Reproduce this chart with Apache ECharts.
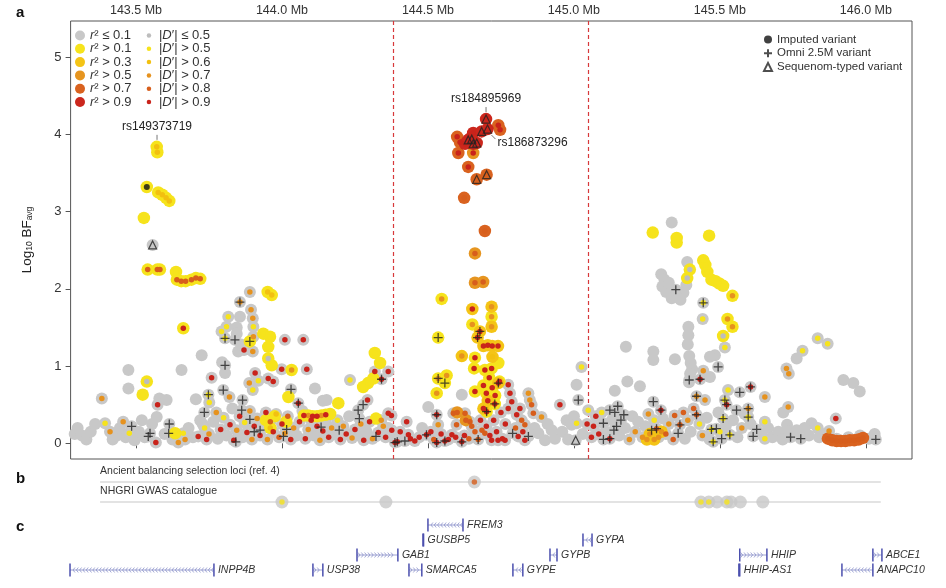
<!DOCTYPE html>
<html><head><meta charset="utf-8">
<script src="https://cdn.jsdelivr.net/npm/echarts@6/dist/echarts.min.js"></script>
<style>html,body{margin:0;padding:0;background:#fff}#c{width:946px;height:588px}</style>
</head><body><div id="c"></div>
<script>
// ---------- DATA ----------
const xTicks = [143.5, 144.0, 144.5, 145.0, 145.5, 146.0];
const yTicks = [0, 1, 2, 3, 4, 5];
const selectionBounds = [144.380, 145.051];
const r2Labels = ['≤ 0.1', '> 0.1', '> 0.3', '> 0.5', '> 0.7', '> 0.9'];
const dLabels = ['≤ 0.5', '> 0.5', '> 0.6', '> 0.7', '> 0.8', '> 0.9'];
const markerNames = ['Imputed variant', 'Omni 2.5M variant', 'Sequenom-typed variant'];

// each point: [position Mb, log10 BFavg, |D'| class index]
const r2Gray = [
[143.290,0.12,0],[143.300,0.20,0],[143.315,0.10,0],[143.330,0.05,0],[143.345,0.15,0],[143.360,0.25,0],[143.383,0.58,3],[143.394,0.26,1],[143.411,0.15,3],[143.420,0.05,0],[143.435,0.10,0],[143.445,0.20,0],[143.456,0.28,3],[143.465,0.08,0],[143.474,0.95,0],[143.474,0.71,0],[143.477,0.13,1],[143.485,0.22,0],[143.495,0.04,0],[143.510,0.15,0],[143.520,0.30,0],[143.530,0.08,0],[143.542,0.09,0],[143.548,0.13,0],[143.555,0.25,0],[143.557,2.57,0],[143.568,0.01,5],[143.571,0.34,0],[143.574,0.50,5],[143.580,0.58,0],[143.605,0.56,0],[143.598,0.12,0],[143.612,0.13,0],[143.614,0.25,0],[143.625,0.05,0],[143.645,0.01,3],[143.656,0.95,0],[143.662,0.13,1],[143.668,0.05,3],[143.680,0.20,0],[143.695,0.08,0],[143.705,0.57,0],[143.713,0.09,5],[143.725,1.14,0],[143.728,0.25,0],[143.742,0.05,5],
[143.890,1.96,3],[143.856,1.83,3],[143.894,1.73,3],[143.816,1.64,1],[143.856,1.64,0],[143.900,1.62,3],[143.810,1.51,1],[143.793,1.45,1],[143.902,1.51,1],[143.845,1.50,0],[143.845,1.42,0],[143.805,1.36,1],[143.839,1.34,0],[143.870,1.21,5],[143.902,1.38,3],[143.900,1.19,3],[143.850,1.19,0],[143.860,1.28,0],[144.010,1.34,5],[144.073,1.34,5],[143.999,0.96,5],[144.085,0.96,5],[143.953,0.84,5],[143.970,0.80,5],[143.908,0.91,5],[143.919,0.81,1],[143.888,0.78,3],[143.805,1.01,0],[143.795,1.05,0],[143.805,0.91,0],[143.759,0.85,5],[143.799,0.69,0],[143.748,0.63,1],[143.751,0.53,1],[143.820,0.60,3],[143.865,0.56,0],[143.900,0.69,1],[144.031,0.70,0],[144.056,0.52,5],[144.113,0.71,0],[144.153,0.56,0],[144.140,0.55,0],[144.233,0.82,1],[144.318,0.93,5],[144.341,0.83,5],[144.364,0.93,5],[144.261,0.43,0],[144.278,0.50,0],[144.265,0.32,0],[144.293,0.56,5],[144.347,0.22,3],[144.322,0.09,0],[144.387,0.01,5],[143.734,0.40,0],[143.890,0.31,0],[143.905,0.15,0],[143.925,0.17,0],[144.016,0.18,0],[144.005,0.09,0],[144.134,0.21,0],[144.196,0.17,0],[143.842,0.02,0],[143.862,0.43,0],[144.364,0.39,5],[144.376,0.17,5],
[143.720,0.30,0],[143.735,0.20,1],[143.750,0.12,3],[143.765,0.28,0],[143.775,0.40,3],[143.780,0.06,0],[143.790,0.18,5],[143.800,0.33,1],[143.810,0.10,0],[143.822,0.24,5],[143.830,0.45,0],[143.835,0.04,5],[143.845,0.17,3],[143.855,0.35,5],[143.865,0.08,0],[143.872,0.27,1],[143.880,0.14,5],[143.890,0.42,3],[143.897,0.05,3],[143.905,0.22,5],[143.915,0.32,3],[143.925,0.10,5],[143.935,0.20,0],[143.945,0.40,5],[143.950,0.05,3],[143.960,0.28,4],[143.970,0.15,5],[143.980,0.38,2],[143.990,0.08,4],[144.000,0.25,5],[144.010,0.13,3],[144.020,0.35,4],[144.030,0.05,5],[144.040,0.20,3],[144.050,0.10,0],[144.060,0.28,5],[144.070,0.42,0],[144.080,0.06,5],[144.090,0.18,3],[144.100,0.30,5],[144.110,0.10,0],[144.120,0.22,5],[144.130,0.04,3],[144.140,0.16,5],[144.150,0.28,0],[144.160,0.08,5],[144.170,0.20,3],[144.180,0.12,0],[144.190,0.30,1],[144.200,0.05,5],[144.210,0.22,3],[144.220,0.12,5],[144.230,0.35,0],[144.240,0.07,3],[144.250,0.18,5],[144.260,0.10,0],[144.270,0.25,3],[144.280,0.04,5],[144.290,0.15,0],[144.300,0.28,5],[144.310,0.06,3],[144.330,0.14,5],[144.340,0.30,3],[144.355,0.08,5],[144.365,0.20,0],[144.375,0.36,5],[144.385,0.12,0],
[144.395,0.02,5],[144.405,0.15,5],[144.421,0.03,0],[144.427,0.28,5],[144.433,0.11,5],[144.440,0.06,5],[144.455,0.03,5],[144.470,0.08,5],[144.480,0.20,0],[144.495,0.11,5],[144.501,0.47,0],[144.510,0.15,5],[144.520,0.05,4],[144.530,0.01,5],[144.530,0.37,5],[144.535,0.24,3],[144.545,0.12,5],[144.558,0.03,5],[144.570,0.05,5],[144.582,0.11,5],[144.587,0.39,4],[144.595,0.08,5],[144.598,0.24,4],[144.616,0.02,5],[144.616,0.63,0],[144.625,0.10,5],[144.627,0.39,4],[144.640,0.06,4],[144.644,0.28,4],[144.650,0.22,4],[144.661,0.15,4],[144.672,0.05,4],[144.680,0.30,5],[144.685,0.17,4],[144.695,0.13,4],[144.700,0.22,5],[144.712,0.10,5],[144.718,0.04,5],[144.725,0.30,5],[144.735,0.15,5],[144.740,0.04,5],[144.750,0.40,5],[144.755,0.06,5],[144.764,0.04,5],[144.765,0.25,5],[144.775,0.45,5],[144.775,0.76,5],[144.781,0.65,5],[144.787,0.54,5],[144.790,0.13,0],[144.800,0.20,4],[144.804,0.37,5],[144.809,0.09,5],[144.815,0.45,5],[144.821,0.30,4],[144.825,0.15,5],[144.832,0.04,5],[144.832,0.24,4],[144.844,0.09,0],[144.844,0.65,3],[144.849,0.56,3],[144.855,0.50,4],[144.861,0.39,4],[144.865,0.20,0],[144.878,0.13,0],[144.889,0.34,3],[144.901,0.04,0],[144.910,0.25,0],[144.924,0.17,0],[144.935,0.06,0],[144.952,0.50,5],[144.960,0.15,0],[144.975,0.30,0],[144.980,0.05,0],[144.992,0.24,0],[145.000,0.35,0],[145.006,0.04,0],[145.009,0.76,0],[145.009,0.26,1],[145.015,0.56,0],[145.026,0.99,1],[145.030,0.12,0],[145.045,0.25,5],[145.049,0.43,1],[145.060,0.08,5],
[145.335,2.86,0],[145.388,2.35,0],[145.299,2.19,0],[145.310,2.12,0],[145.303,2.03,0],[145.316,1.96,0],[145.335,1.88,0],[145.355,1.90,0],[145.375,1.95,0],[145.385,2.05,0],[145.349,1.99,0],[145.325,2.08,0],[145.365,1.86,0],[145.443,1.82,1],[145.441,1.61,1],[145.517,1.24,1],[145.392,1.51,0],[145.392,1.40,0],[145.390,1.28,0],[145.395,1.13,0],[145.400,1.04,0],[145.405,0.96,0],[145.398,0.90,0],[145.394,0.79,0],[145.178,1.25,0],[145.272,1.19,0],[145.272,1.08,0],[145.346,1.09,0],[145.483,1.14,0],[145.466,1.12,0],[145.494,0.99,0],[145.443,0.94,3],[145.395,0.82,0],[145.432,0.83,5],[145.466,0.86,0],[145.183,0.80,0],[145.226,0.74,0],[145.140,0.68,0],[145.272,0.54,0],[145.298,0.43,5],[145.420,0.61,3],[145.449,0.56,3],[145.517,0.56,1],[145.523,0.50,5],[145.528,0.69,1],[145.568,0.66,0],[145.605,0.73,5],[145.654,0.60,3],[145.557,0.43,0],[145.597,0.45,3],[145.597,0.34,1],[145.420,0.37,4],[145.150,0.48,0],[145.123,0.43,0],[145.140,0.40,0],[145.171,0.37,0],[145.161,0.30,0],[145.101,0.26,0],[145.146,0.22,0],[145.137,0.17,0],[145.101,0.05,0],[145.123,0.06,5],[145.067,0.22,5],[145.266,0.17,0],[145.283,0.19,4],[145.363,0.24,4],[145.357,0.13,0],[145.471,0.18,1],[145.488,0.19,0],[145.511,0.32,1],[145.534,0.11,1],[145.506,0.06,0],[145.477,0.02,1],[145.626,0.18,0],[145.614,0.09,0],[145.742,0.08,0],[145.777,0.06,0],[146.034,0.05,0],[145.897,0.32,5],[145.835,0.20,1],[145.874,0.16,3],[145.814,0.26,0],[145.923,0.82,0],[145.957,0.78,0],[145.979,0.67,0],[145.835,1.36,1],[145.869,1.29,1],[145.783,1.20,1],[145.763,1.10,0],[145.728,0.97,3],[145.736,0.90,3],[145.734,0.47,3],[145.717,0.40,0],[145.730,0.24,0],[145.735,0.15,0],[145.722,0.12,0],[145.763,0.17,0],[145.654,0.28,1],[145.654,0.06,1],
[145.075,0.35,5],[145.085,0.12,5],[145.095,0.40,1],[145.110,0.15,0],[145.130,0.30,0],[145.155,0.10,0],[145.175,0.20,0],[145.190,0.05,3],[145.200,0.35,0],[145.210,0.15,3],[145.220,0.28,0],[145.235,0.08,3],[145.245,0.22,0],[145.255,0.38,3],[145.275,0.30,1],[145.290,0.08,3],[145.305,0.32,0],[145.315,0.12,4],[145.325,0.25,3],[145.340,0.05,4],[145.345,0.36,4],[145.375,0.40,4],[145.380,0.06,0],[145.390,0.30,3],[145.400,0.15,0],[145.410,0.45,4],[145.430,0.25,1],[145.440,0.10,3],[145.455,0.33,0],[145.465,0.05,0],[145.495,0.40,0],[145.500,0.15,1],[145.520,0.22,0],[145.545,0.30,0],[145.560,0.08,0],[145.575,0.20,3],[145.585,0.38,0],[145.605,0.25,0],[145.640,0.12,0],[145.665,0.20,0],[145.680,0.08,0],[145.700,0.15,0],[145.715,0.05,0],[145.790,0.20,0],[145.805,0.10,0],[145.840,0.08,0],[145.860,0.12,0],[145.900,0.06,0],[145.940,0.08,0],[145.980,0.10,0],[146.010,0.06,0],[146.030,0.12,0]
];
const r2Y1 = [
[143.571,3.84,2],[143.573,3.77,2],[143.537,3.32,1],[143.576,3.25,2],[143.590,3.22,2],[143.603,3.18,2],[143.614,3.14,2],[143.527,2.92,1],[143.540,2.25,4],[143.573,2.25,4],[143.582,2.25,4],[143.637,2.22,1],[143.640,2.12,4],[143.655,2.10,4],[143.670,2.10,4],[143.690,2.12,4],[143.705,2.14,4],[143.720,2.13,4],[143.951,1.96,2],[143.965,1.92,2],[143.662,1.49,5],[143.936,1.42,1],[143.959,1.38,1],[143.953,1.25,1],[143.953,1.10,0],[143.965,1.01,1],[143.890,1.32,1],[144.033,0.95,3],[143.537,0.80,0],[143.523,0.63,1],[144.193,0.52,1],[144.075,0.36,5],[144.090,0.36,3],[144.105,0.35,5],[144.120,0.35,5],[144.135,0.36,3],[144.150,0.37,5],[144.165,0.38,1],[144.278,0.73,1],[144.295,0.78,1],[144.313,0.84,1],[144.318,1.17,1],[144.336,1.04,1],[144.322,0.32,1],[143.634,0.13,1],[143.945,0.30,1],[143.960,0.20,2],[143.975,0.35,1],[144.015,0.28,1],[144.022,0.60,1],
[144.547,1.87,3],[144.535,1.37,1],[144.535,0.84,3],[144.564,0.88,3],[144.558,0.78,1],[144.530,0.65,3],[144.652,1.54,3],[144.718,1.64,3],[144.661,1.11,5],[144.658,0.97,5],[144.695,0.95,5],[144.718,0.97,5],[144.741,1.04,1],[144.661,0.67,5],[144.690,0.75,5],[144.700,0.65,5],[144.710,0.85,5],[144.720,0.72,5],[144.730,0.62,5],[144.745,0.80,5],[144.729,0.51,5],[144.701,0.41,5],
[145.270,2.73,1],[145.352,2.66,1],[145.352,2.60,1],[145.463,2.69,1],[145.397,2.25,0],[145.388,2.14,0],[145.443,2.37,1],[145.450,2.31,1],[145.457,2.22,1],[145.471,2.12,1],[145.485,2.10,1],[145.498,2.07,1],[145.511,2.04,1],[145.543,1.91,3],[145.526,1.61,3],[145.543,1.51,3],[145.511,1.39,0]
];
const r2Y3 = [
[144.652,1.74,5],[144.718,1.77,3],[144.718,1.51,3],[144.678,1.45,5],[144.670,1.37,5],[144.690,1.26,5],[144.705,1.27,5],[144.720,1.26,5],[144.740,1.26,5],[144.616,1.13,3],[144.721,1.12,2],[144.741,0.78,5],[144.705,0.55,5],[144.690,0.45,5],[145.250,0.05,3],[145.260,0.12,3],[145.275,0.05,3],[145.300,0.15,3]
];
const r2O5 = [
[144.655,3.76,5],[144.661,2.46,4],[144.661,2.08,4],[144.689,2.09,4],[144.630,0.30,4],[144.600,0.40,4]
];
const r2O7 = [
[144.741,4.12,5],[144.747,4.06,5],[144.600,3.97,5],[144.610,3.90,5],[144.604,3.76,5],[144.638,3.58,5],[144.701,3.48,4],[144.667,3.42,4],[144.624,3.18,4],[144.695,2.75,4],
[145.870,0.06,4],[145.885,0.04,4],[145.900,0.03,4],[145.915,0.03,4],[145.930,0.03,4],[145.945,0.04,4],[145.960,0.04,4],[145.975,0.05,4],[145.990,0.07,4]
];
const r2R9 = [
[144.699,4.20,5],[144.704,4.07,5],[144.684,4.04,5],[144.655,4.02,5],[144.638,3.93,5],[144.650,3.94,5],[144.645,3.95,5],[144.667,3.89,5],[144.655,3.88,5],[144.627,3.88,5]
];

const imputedPts = [[143.537,3.32]];
const omniPts = [
[143.485,0.22],[143.542,0.09],[143.548,0.13],[143.612,0.13],[143.614,0.25],[143.856,1.83],[143.805,1.36],[143.839,1.34],[143.890,1.32],[143.805,1.01],[143.799,0.69],[143.748,0.63],[143.865,0.56],[144.031,0.70],[144.056,0.52],[144.341,0.83],[144.261,0.43],[144.278,0.50],[144.265,0.32],[144.322,0.09],[144.387,0.01],[143.734,0.40],[143.890,0.31],[143.905,0.15],[143.925,0.17],[144.016,0.18],[144.005,0.09],[144.134,0.21],[144.196,0.17],[143.842,0.02],[143.862,0.43],
[144.395,0.02],[144.421,0.03],[144.495,0.11],[144.530,0.01],[144.558,0.03],[144.616,0.02],[144.672,0.05],[144.790,0.13],[144.844,0.09],[144.535,1.37],[144.678,1.45],[144.670,1.37],[144.535,0.84],[144.558,0.78],[144.741,0.78],[144.729,0.51],[144.701,0.41],[144.530,0.37],[145.015,0.56],
[145.349,1.99],[145.443,1.82],[145.494,0.99],[145.395,0.82],[145.432,0.83],[145.272,0.54],[145.298,0.43],[145.420,0.61],[145.517,0.56],[145.523,0.50],[145.568,0.66],[145.605,0.73],[145.557,0.43],[145.597,0.45],[145.597,0.34],[145.420,0.37],[145.150,0.48],[145.123,0.43],[145.140,0.40],[145.171,0.37],[145.161,0.30],[145.101,0.26],[145.146,0.22],[145.137,0.17],[145.101,0.05],[145.123,0.06],[145.266,0.17],[145.283,0.19],[145.363,0.24],[145.357,0.13],[145.471,0.18],[145.488,0.19],[145.511,0.32],[145.534,0.11],[145.506,0.06],[145.477,0.02],[145.626,0.18],[145.614,0.09],[145.742,0.08],[145.777,0.06],[146.034,0.05]
];
const sequenomPts = [[143.557,2.57],[144.699,4.20],[144.704,4.07],[144.684,4.04],[144.638,3.93],[144.650,3.94],[144.667,3.89],[144.655,3.88],[144.701,3.48],[144.667,3.42],[145.006,0.04]];

const annotations = [['rs149373719',143.572,3.84],['rs184895969',144.699,4.20],['rs186873296',144.704,4.07]];

// panel b
const trackNames = ['Ancient balancing selection loci (ref. 4)', 'NHGRI GWAS catalogue'];
const trackRange = [143.377, 146.051];
const ancientLoci = [[144.659, 4]];
const gwasHits = [[144.000,1],[144.356,0],[145.435,1],[145.462,1],[145.490,0],[145.524,1],[145.538,0],[145.570,0],[145.647,0]];

// panel c
const geneNames  = ['INPP4B','USP38','GAB1','SMARCA5','GUSBP5','FREM3','GYPE','GYPB','GYPA','HHIP','HHIP-AS1','ANAPC10','ABCE1'];
const geneStart  = [143.274,144.106,144.257,144.435,144.483,144.500,144.791,144.918,145.031,145.568,145.565,145.918,146.024];
const geneEnd    = [143.767,144.140,144.397,144.479,144.485,144.620,144.825,144.942,145.062,145.661,145.568,146.024,146.055];
const geneRow    = [4,4,3,4,2,1,4,3,2,3,4,4,3];
const geneStrand = [-1,1,1,1,0,-1,-1,-1,-1,1,0,-1,1];

// ---------- STYLE ----------
const FONT = "'Liberation Sans', Arial, Helvetica, sans-serif";
const r2Colors = ['#c8c8c8','#f6e31c','#f4c416','#e69520','#d9621f','#cb271d'];
const dColors  = ['#bdbdbd','#f6e31c','#f2c010','#e6921e','#d75e1c','#c9231b'];
const X_MIN = 143.276, X_MAX = 146.158;

const chart = echarts.init(document.getElementById('c'), null, {renderer: 'canvas'});

const outerSets = [r2Gray, r2Y1, r2Y3, r2O5, r2O7, r2R9];
const innerSets = dLabels.map(() => []);
outerSets.forEach((set, k) => set.forEach(p => {
  if (k === 0 && p[2] === 0) return;
  innerSets[p[2]].push([p[0], p[1]]);
}));

const r2Names = r2Labels.map(l => 'r2 ' + l);
const dNames = dLabels.map(l => 'D ' + l);

const series = [];
outerSets.forEach((set, k) => {
  const s = {
    type: 'scatter', name: r2Names[k], xAxisIndex: 0, yAxisIndex: 0,
    data: set.map(p => [p[0], p[1]]), symbol: 'circle', symbolSize: k ? 12.5 : 12,
    itemStyle: {color: r2Colors[k], opacity: 1}, silent: true, z: 2
  };
  if (k === 0) {
    s.markLine = {
      silent: true, symbol: 'none', label: {show: false}, z: 1,
      lineStyle: {color: '#d8393b', type: [4, 3], width: 1.2},
      data: selectionBounds.map(x => ({xAxis: x}))
    };
  }
  series.push(s);
});
innerSets.forEach((set, k) => series.push({
  type: 'scatter', name: dNames[k], xAxisIndex: 0, yAxisIndex: 0,
  data: set, symbol: 'circle', symbolSize: 5.5,
  itemStyle: {color: dColors[k], opacity: 1}, silent: true, z: 3
}));
series.push({
  type: 'scatter', name: markerNames[0], data: imputedPts, symbol: 'circle', symbolSize: 6,
  itemStyle: {color: '#111'}, silent: true, z: 4
});
series.push({
  type: 'scatter', name: markerNames[1], data: omniPts, symbol: 'path://M0,5L10,5M5,0L5,10', symbolSize: 9,
  itemStyle: {color: 'rgba(0,0,0,0)', borderColor: '#222', borderWidth: 1.3}, silent: true, z: 4
});
series.push({
  type: 'scatter', name: markerNames[2], data: sequenomPts, symbol: 'triangle', symbolSize: 8,
  itemStyle: {color: 'rgba(0,0,0,0)', borderColor: '#222', borderWidth: 1.2}, silent: true, z: 4
});
// annotations
series.push({
  type: 'custom', xAxisIndex: 0, yAxisIndex: 0, silent: true, z: 5,
  data: annotations.map(a => [a[1], a[2]]),
  renderItem(params, api) {
    const p = api.coord([api.value(0), api.value(1)]);
    const name = annotations[params.dataIndex][0];
    if (params.dataIndex < 2) {
      return {type: 'group', children: [
        {type: 'line', shape: {x1: p[0], y1: p[1] - 12, x2: p[0], y2: p[1] - 7}, style: {stroke: '#555', lineWidth: 0.8}},
        {type: 'text', style: {x: p[0], y: p[1] - 20, text: name, align: 'center', verticalAlign: 'middle', fontSize: 12, fill: '#222', fontFamily: FONT}}
      ]};
    }
    return {type: 'group', children: [
      {type: 'line', shape: {x1: p[0] + 4, y1: p[1] + 6, x2: p[0] + 8, y2: p[1] + 10}, style: {stroke: '#555', lineWidth: 0.8}},
      {type: 'text', style: {x: p[0] + 10, y: p[1] + 14, text: name, align: 'left', verticalAlign: 'middle', fontSize: 12, fill: '#222', fontFamily: FONT}}
    ]};
  }
});
// panel b tracks
series.push({
  type: 'custom', xAxisIndex: 1, yAxisIndex: 1, silent: true, z: 1,
  data: trackNames.map((n, i) => [trackRange[0], trackRange[1], i + 1]),
  renderItem(params, api) {
    const a = api.coord([api.value(0), api.value(2)]);
    const b = api.coord([api.value(1), api.value(2)]);
    return {type: 'group', children: [
      {type: 'line', shape: {x1: a[0], y1: a[1], x2: b[0], y2: b[1]}, style: {stroke: '#e3e3e3', lineWidth: 2}},
      {type: 'text', style: {x: a[0], y: a[1] - 5, text: trackNames[params.dataIndex], align: 'left', verticalAlign: 'bottom', fontSize: 10.5, fill: '#333', fontFamily: FONT}}
    ]};
  }
});
const trackPts = ancientLoci.map(p => [p[0], 1, p[1]]).concat(gwasHits.map(p => [p[0], 2, p[1]]));
series.push({
  type: 'scatter', xAxisIndex: 1, yAxisIndex: 1, silent: true, z: 2,
  data: trackPts.map(p => [p[0], p[1]]), symbolSize: 13, itemStyle: {color: '#c8c8c8'}
});
series.push({
  type: 'scatter', xAxisIndex: 1, yAxisIndex: 1, silent: true, z: 3,
  data: trackPts.filter(p => p[2] > 0).map(p => ({value: [p[0], p[1]], itemStyle: {color: dColors[p[2]]}})),
  symbolSize: 5.5
});
// panel c genes
series.push({
  type: 'custom', xAxisIndex: 2, yAxisIndex: 2, silent: true, clip: false,
  data: geneNames.map((n, i) => [geneStart[i], geneEnd[i], geneRow[i], geneStrand[i]]),
  renderItem(params, api) {
    const s = api.coord([api.value(0), api.value(2)]);
    const e = api.coord([api.value(1), api.value(2)]);
    const y = s[1], x0 = s[0], x1 = e[0];
    const strand = api.value(3);
    const ch = [];
    ch.push({type: 'line', shape: {x1: x0, y1: y, x2: x1, y2: y}, style: {stroke: '#9ea3d2', lineWidth: 1}});
    if (strand !== 0) {
      for (let x = x0 + 3; x < x1 - 2; x += 3.3) {
        const d = strand > 0 ? -2 : 2;
        ch.push({type: 'polyline', shape: {points: [[x + d, y - 2.5], [x, y], [x + d, y + 2.5]]}, style: {stroke: '#8e94cc', fill: null, lineWidth: 0.8}});
      }
    }
    ch.push({type: 'line', shape: {x1: x0, y1: y - 6.5, x2: x0, y2: y + 6.5}, style: {stroke: '#4b4fae', lineWidth: 1.5}});
    ch.push({type: 'line', shape: {x1: x1, y1: y - 6.5, x2: x1, y2: y + 6.5}, style: {stroke: '#4b4fae', lineWidth: 1.5}});
    ch.push({type: 'text', style: {x: x1 + 4, y: y, text: geneNames[params.dataIndex], align: 'left', verticalAlign: 'middle', fontSize: 10.5, fontStyle: 'italic', fill: '#333', fontFamily: FONT}});
    return {type: 'group', children: ch};
  }
});

const legendText = {fontSize: 13, color: '#333', lineHeight: 12, fontFamily: FONT,
  rich: {i: {fontStyle: 'italic', fontSize: 13, lineHeight: 12, color: '#333', fontFamily: FONT}}};

const option = {
  animation: false,
  backgroundColor: '#fff',
  textStyle: {fontFamily: FONT},
  grid: [
    {left: 70.6, right: 34, top: 21, height: 438, show: true, borderColor: '#555', borderWidth: 1, backgroundColor: 'transparent'},
    {left: 70.6, right: 34, top: 472, height: 40},
    {left: 70.6, right: 34, top: 517.5, height: 60}
  ],
  xAxis: [
    {gridIndex: 0, type: 'value', position: 'top', min: X_MIN, max: X_MAX,
      axisLine: {show: false}, splitLine: {show: false},
      axisTick: {show: true, inside: true, length: 5, customValues: xTicks, lineStyle: {color: '#555'}},
      axisLabel: {customValues: xTicks, formatter: v => v.toFixed(1) + ' Mb', fontSize: 12.5, color: '#333', margin: 4, fontFamily: FONT}},
    {gridIndex: 1, type: 'value', min: X_MIN, max: X_MAX, show: false},
    {gridIndex: 2, type: 'value', min: X_MIN, max: X_MAX, show: false}
  ],
  yAxis: [
    {gridIndex: 0, type: 'value', min: -0.203, max: 5.47,
      axisLine: {show: false}, splitLine: {show: false},
      axisTick: {show: true, length: 5, customValues: yTicks, lineStyle: {color: '#555'}},
      axisLabel: {customValues: yTicks, fontSize: 13, color: '#333', margin: 9, fontFamily: FONT},
      name: '{a|Log}{s|10}{a| BF}{s|avg}', nameLocation: 'middle', nameGap: 36, nameRotate: 90,
      nameTextStyle: {rich: {
        a: {fontSize: 13.5, color: '#222', lineHeight: 14, fontFamily: FONT},
        s: {fontSize: 8.5, color: '#222', lineHeight: 8, verticalAlign: 'bottom', padding: [4, 0, 0, 0], fontFamily: FONT}
      }}},
    {gridIndex: 1, type: 'value', min: 0.5, max: 2.5, inverse: true, show: false},
    {gridIndex: 2, type: 'value', min: 0.5, max: 4.5, inverse: true, show: false}
  ],
  legend: [
    {data: r2Names, orient: 'vertical', left: 75, top: 29, itemWidth: 10, itemHeight: 10, itemGap: 0.3,
      icon: 'circle', selectedMode: false, textStyle: legendText, padding: 0,
      formatter: n => '{i|r}² ' + n.slice(3)},
    {data: dNames, orient: 'vertical', left: 146.7, top: 29, itemWidth: 10, itemHeight: 4.5, itemGap: 0.3,
      icon: 'circle', selectedMode: false, textStyle: legendText, padding: 0,
      formatter: n => '|{i|D}′| ' + n.slice(2)},
    {data: markerNames, orient: 'vertical', left: 763, top: 33.5, itemWidth: 8, itemHeight: 8, itemGap: 1.7,
      selectedMode: false, padding: 0, textStyle: {fontSize: 11.5, color: '#333', lineHeight: 12, fontFamily: FONT}}
  ],
  graphic: [
    {type: 'text', left: 16, top: 5, style: {text: 'a', fontSize: 15, fontWeight: 'bold', fill: '#111', fontFamily: FONT}},
    {type: 'text', left: 16, top: 471, style: {text: 'b', fontSize: 15, fontWeight: 'bold', fill: '#111', fontFamily: FONT}},
    {type: 'text', left: 16, top: 519, style: {text: 'c', fontSize: 15, fontWeight: 'bold', fill: '#111', fontFamily: FONT}}
  ],
  series: series
};
chart.setOption(option);
</script>
</body></html>
